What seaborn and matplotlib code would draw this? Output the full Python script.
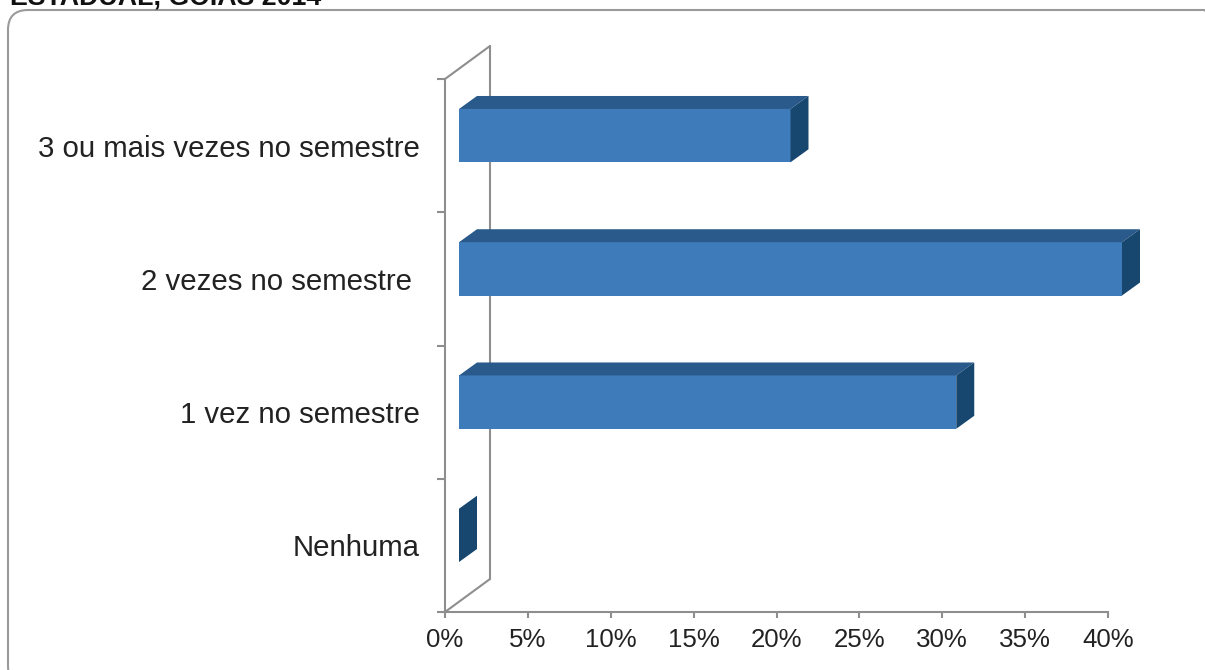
import matplotlib
matplotlib.use("Agg")
import matplotlib.pyplot as plt
import matplotlib.transforms as mtransforms
from matplotlib.patches import Polygon, FancyBboxPatch
from matplotlib.lines import Line2D
import seaborn as sns
import pandas as pd

# ---------------- data ----------------
categories = ["3 ou mais vezes no semestre", "2 vezes no semestre ", "1 vez no semestre", "Nenhuma"]
values = [20, 40, 30, 0]
xtick_values = [0, 5, 10, 15, 20, 25, 30, 35, 40]
xtick_labels = ["0%", "5%", "10%", "15%", "20%", "25%", "30%", "35%", "40%"]
title_text = "ESTADUAL, GOIÁS 2014"

# ---------------- style ----------------
FRONT = "#3E7BBB"
TOP = "#2A5A8B"
SIDE = "#17466F"
GRAY = "#8E8E8E"
TEXT = "#222222"

sns.set_style("white")
plt.rcParams["font.family"] = ["Liberation Sans", "DejaVu Sans"]

W, H = 1205, 670
fig = plt.figure(figsize=(W / 100, H / 100), dpi=100)
fig.patch.set_facecolor("white")

# axes: 0% at px 445, 40% at px 1108; top at px 79, bottom at px 612
ax = fig.add_axes([445 / W, (H - 612) / H, (1108 - 445) / W, (612 - 79) / H])
ax.set_facecolor("none")

df = pd.DataFrame({"cat": categories, "val": values})
sns.barplot(data=df, x="val", y="cat", orient="h", color=FRONT, saturation=1,
            width=0.4, ax=ax, linewidth=0, zorder=3)

ax.set_xlim(0, 40)
ax.set_ylim(len(categories) - 0.5, -0.5)
ax.set_xlabel("")
ax.set_ylabel("")

# spines
for s in ["top", "right"]:
    ax.spines[s].set_visible(False)
for s in ["left", "bottom"]:
    ax.spines[s].set_color(GRAY)
    ax.spines[s].set_linewidth(1.5)

# x ticks
ax.set_xticks(xtick_values)
ax.set_xticklabels(xtick_labels)
ax.tick_params(axis="x", direction="out", length=4.5, width=1.5, color=GRAY,
               labelsize=18.6, labelcolor=TEXT, pad=7, bottom=True)

# y ticks: labels at category centres, tick marks at boundaries
ax.set_yticks(range(len(categories)))
ax.set_yticklabels(categories)
ax.set_yticks([i - 0.5 for i in range(len(categories) + 1)], minor=True)
ax.tick_params(axis="y", which="major", length=0, labelsize=21.2, labelcolor=TEXT, pad=18)
ax.tick_params(axis="y", which="minor", direction="out", length=6, width=1.5, color=GRAY, left=True)
ax.grid(False)

# ---------------- 3D back wall ----------------
wall_off = mtransforms.ScaledTranslation(45 / 100, 33 / 100, fig.dpi_scale_trans)
wall_t = ax.transAxes + wall_off
ax.add_line(Line2D([0, 0], [0, 1], transform=wall_t, color=GRAY, lw=1.5, clip_on=False, zorder=1))
for yy in (0, 1):
    p0 = ax.transAxes.transform((0, yy))
    p1 = wall_t.transform((0, yy))
    ax.add_line(Line2D([p0[0], p1[0]], [p0[1], p1[1]], transform=mtransforms.IdentityTransform(),
                       color=GRAY, lw=1.5, clip_on=False, zorder=1))

# ---------------- 3D bars ----------------
bar_shift = mtransforms.ScaledTranslation(14 / 100, 10 / 100, fig.dpi_scale_trans)
front_t = ax.transData + bar_shift
DX, DY = 18, 13  # depth in pixels
ident = mtransforms.IdentityTransform()
for patch in list(ax.patches):
    x0, y0 = patch.get_x(), patch.get_y()
    w, h = patch.get_width(), patch.get_height()
    patch.set_transform(front_t)
    patch.set_clip_on(False)
    (ax_, ay_), (bx_, by_) = front_t.transform([(x0, y0), (x0 + w, y0 + h)])
    xl, xr = min(ax_, bx_), max(ax_, bx_)
    yb, yt = min(ay_, by_), max(ay_, by_)
    top = Polygon([(xl, yt), (xr, yt), (xr + DX, yt + DY), (xl + DX, yt + DY)],
                  closed=True, transform=ident, facecolor=TOP, edgecolor="none",
                  clip_on=False, zorder=3)
    side = Polygon([(xr, yb), (xr, yt), (xr + DX, yt + DY), (xr + DX, yb + DY)],
                   closed=True, transform=ident, facecolor=SIDE, edgecolor="none",
                   clip_on=False, zorder=3)
    ax.add_patch(top)
    ax.add_patch(side)

# ---------------- border & title ----------------
px2fig = mtransforms.Affine2D().scale(1 / W, 1 / H) + fig.transFigure
border = FancyBboxPatch((8, H - 686), 1216, 676,
                        boxstyle="round,pad=0,rounding_size=20",
                        transform=px2fig, facecolor="none", edgecolor="#9A9A9A", lw=1.5)
fig.patches.append(border)

fig.text(10 / W, 1 - 5 / H, title_text, fontsize=19.3, fontweight="bold",
         color="#111111", ha="left", va="baseline")

fig.savefig("out.png", dpi=100)
